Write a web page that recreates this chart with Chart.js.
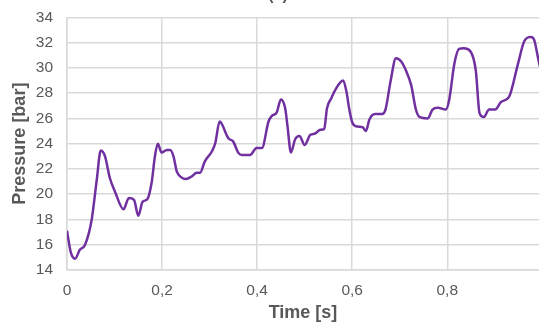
<!DOCTYPE html>
<html>
<head>
<meta charset="utf-8">
<script src="https://cdn.jsdelivr.net/npm/chart.js@4"></script>
<style>
  html, body { margin: 0; padding: 0; background: #fff; }
  #wrap { width: 539px; height: 324px; position: relative; }
</style>
</head>
<body>
<div id="wrap"><canvas id="chart"></canvas></div>
<script>
// time [s] and pressure [bar]
const times = [
  0.000, 0.008, 0.017, 0.027, 0.038, 0.052, 0.0625, 0.071, 0.080, 0.090,
  0.101, 0.119, 0.130, 0.141, 0.150, 0.159, 0.169, 0.178, 0.185, 0.191,
  0.199, 0.210, 0.217, 0.224, 0.231, 0.240, 0.250, 0.262, 0.273, 0.280,
  0.290, 0.305, 0.312, 0.321, 0.325, 0.340, 0.349, 0.361, 0.368, 0.385,
  0.399, 0.410, 0.424, 0.431, 0.441, 0.450, 0.459, 0.464, 0.471, 0.480,
  0.489, 0.500, 0.512, 0.522, 0.533, 0.541, 0.547, 0.556, 0.565, 0.581,
  0.588, 0.594, 0.601, 0.611, 0.622, 0.629, 0.636, 0.648, 0.663, 0.670,
  0.681, 0.692, 0.703, 0.713, 0.724, 0.734, 0.742, 0.759, 0.769, 0.780,
  0.797, 0.804, 0.815, 0.825, 0.835, 0.849, 0.860, 0.868, 0.877, 0.888,
  0.901, 0.913, 0.930, 0.948, 0.962, 0.976, 0.983, 0.992, 0.998
];
const pressure = [
  17.1, 15.4, 14.9, 15.6, 16.0, 18.0, 21.1, 23.45, 23.0, 21.3,
  20.2, 18.8, 19.7, 19.55, 18.3, 19.4, 19.6, 20.9, 23.0, 24.0,
  23.3, 23.5, 23.5, 23.0, 21.8, 21.35, 21.2, 21.4, 21.7, 21.7,
  22.6, 23.4, 24.05, 25.75, 25.6, 24.4, 24.2, 23.25, 23.1, 23.1,
  23.65, 23.65, 25.75, 26.2, 26.45, 27.5, 26.8, 25.35, 23.3, 24.35,
  24.6, 23.9, 24.7, 24.8, 25.1, 25.15, 26.8, 27.6, 28.3, 29.0,
  28.1, 26.7, 25.6, 25.35, 25.3, 25.0, 25.9, 26.35, 26.35, 26.7,
  29.0, 30.75, 30.5, 29.8, 28.65, 26.7, 26.1, 26.0, 26.7, 26.85,
  26.7, 27.45, 30.35, 31.5, 31.55, 31.3, 29.8, 26.4, 26.1, 26.7,
  26.7, 27.3, 27.7, 30.2, 32.1, 32.45, 32.2, 30.6, 29.6
];
const xTicks = [0, 0.2, 0.4, 0.6, 0.8];
const yRange = [14, 34];

const gridColor = '#d9d9d9';
const textColor = '#595959';
const fontFamily = '"Liberation Sans", Arial, sans-serif';

// the cut-off "(a)" caption at the very top
const captionPlugin = {
  id: 'caption',
  afterDraw(chart) {
    const ctx = chart.ctx;
    ctx.save();
    ctx.font = 'bold 16px ' + fontFamily;
    ctx.fillStyle = textColor;
    ctx.textAlign = 'center';
    ctx.textBaseline = 'alphabetic';
    ctx.fillText('(a)', 278, 0);
    ctx.restore();
  }
};

const ctx = document.getElementById('chart').getContext('2d');
new Chart(ctx, {
  type: 'line',
  data: {
    datasets: [{
      data: times.map((t, i) => ({ x: t, y: pressure[i] })),
      borderColor: '#7030a0',
      borderWidth: 2.5,
      pointRadius: 0,
      cubicInterpolationMode: 'monotone',
      fill: false
    }]
  },
  options: {
    responsive: true,
    maintainAspectRatio: false,
    animation: false,
    layout: { padding: { top: 17.3, right: 0, left: 0, bottom: 0 } },
    plugins: {
      legend: { display: false },
      tooltip: { enabled: false }
    },
    scales: {
      x: {
        type: 'linear',
        min: 0,
        max: 0.993,
        afterFit(scale) { scale.height = 54; },
        afterBuildTicks(scale) { scale.ticks = xTicks.map(v => ({ value: v })); },
        grid: { color: gridColor, lineWidth: 1.5, drawTicks: false },
        border: { color: gridColor, width: 1.5 },
        ticks: {
          padding: 11,
          color: textColor,
          font: { family: fontFamily, size: 15.5 },
          maxRotation: 0,
          callback: v => v === 0 ? '0' : v.toFixed(1).replace('.', ',')
        },
        title: {
          display: true,
          text: 'Time [s]',
          color: textColor,
          font: { family: fontFamily, size: 18, weight: 'bold' },
          padding: { top: 0, bottom: 0 }
        }
      },
      y: {
        min: yRange[0],
        max: yRange[1],
        afterFit(scale) {
          scale.width = 67;
          scale.paddingTop = 0;
          scale.paddingBottom = 0;
        },
        grid: { color: gridColor, lineWidth: 1.5, drawTicks: false },
        border: { color: gridColor, width: 1.5 },
        ticks: {
          stepSize: 2,
          padding: 14,
          color: textColor,
          font: { family: fontFamily, size: 15.5 }
        },
        title: {
          display: true,
          text: 'Pressure [bar]',
          color: textColor,
          font: { family: fontFamily, size: 18, weight: 'bold' },
          padding: { top: 9, bottom: 0 }
        }
      }
    }
  },
  plugins: [captionPlugin]
});
</script>
</body>
</html>
